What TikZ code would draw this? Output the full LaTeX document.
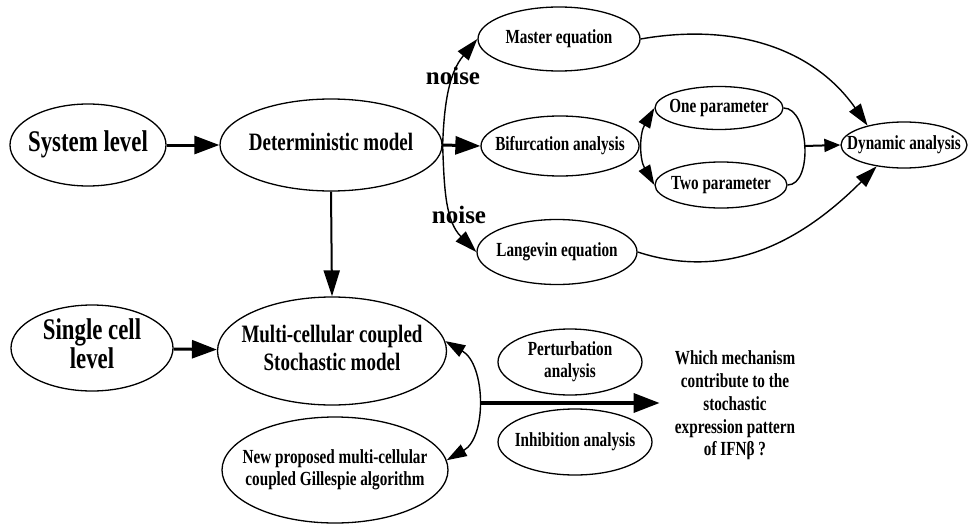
\documentclass[tikz,border=0pt]{standalone}
\usepackage{fontspec}
\setmainfont[FakeStretch=0.76]{Liberation Serif}
\newfontfamily\noisefont{Liberation Serif}
\usetikzlibrary{shapes.geometric,arrows.meta}
\newcommand\mlt[1]{\makebox[0pt]{\begin{tabular}{@{}c@{}}#1\end{tabular}}}
\tikzset{
  ell/.style 2 args={ellipse, draw, line width=1.3pt, minimum width=#1, minimum height=#2, inner sep=0pt},
  fbig/.style={font=\bfseries\fontsize{30}{29}\selectfont},
  fmid/.style={font=\bfseries\fontsize{25}{28}\selectfont},
  fsml/.style={font=\bfseries\fontsize{20}{22}\selectfont},
  fnoise/.style={font=\noisefont\bfseries\fontsize{25}{25}\selectfont, inner sep=0pt},
  thickarr/.style={line width=3pt, -{Triangle[length=25pt,width=18pt]}},
  vertarr/.style={line width=2pt, -{Triangle[length=26pt,width=16pt]}},
  smallarr/.style={line width=2pt, -{Triangle[length=16pt,width=13pt]}},
  thinarr/.style={line width=1.4pt, -{Triangle[length=22pt,width=14pt]}},
  dblarr/.style={line width=1.4pt, {Triangle[length=20pt,width=13pt]}-{Triangle[length=20pt,width=13pt]}},
  bigarr/.style={line width=3.5pt, -{Triangle[length=26pt,width=19pt]}},
}
\begin{document}
\begin{tikzpicture}[x=1pt,y=1pt]
\useasboundingbox (0,0) rectangle (968,-524);
% nodes
\node[ell={156}{82}, fbig] (sys) at (88,-145) {\mlt{System level}};
\node[ell={222}{92}, fmid] (det) at (331,-145) {\mlt{Deterministic model}};
\node[ell={162}{64}, fsml] (master) at (559,-39) {\mlt{Master equation}};
\node[ell={158}{60}, fsml] (bif) at (560,-146) {\mlt{Bifurcation analysis}};
\node[ell={160}{65}, fsml] (lang) at (557,-252) {\mlt{Langevin equation}};
\node[ell={128}{43}, fsml] (one) at (719,-108) {\mlt{One parameter}};
\node[ell={132}{46}, fsml] (two) at (721,-185) {\mlt{Two parameter}};
\node[ell={126}{46}, fsml] (dyn) at (904,-145) {\mlt{Dynamic analysis}};
\node[ell={162}{86}, fbig] (single) at (92,-348) {\mlt{Single cell\\level}};
\node[ell={229}{108}, fmid] (multi) at (332,-351) {\mlt{Multi-cellular coupled\\Stochastic model}};
\node[ell={226}{106}, fsml] (new) at (335,-470) {\mlt{New proposed multi-cellular\\coupled Gillespie algorithm}};
\node[ell={144}{66}, fsml] (pert) at (570,-362) {\mlt{Perturbation\\analysis}};
\node[ell={154}{66}, fsml] (inh) at (575,-442) {\mlt{Inhibition analysis}};
\node[font=\bfseries\fontsize{20}{22.75}\selectfont, align=center, inner sep=0pt] (q) at (735,-405.5)
  {Which mechanism\\contribute to the\\stochastic\\expression pattern\\of IFNβ ?};
\node[fnoise] (n1) at (453,-76) {noise};
\node[fnoise] (n2) at (459,-215) {noise};
\coordinate (brk) at (804,-146);
\coordinate (hs) at (480,-403);
% connectors
\draw[thickarr] (sys) -- (det);
\draw[thickarr] (det.east) -- (bif.west);
\draw[thickarr] (single) -- (multi);
\draw[vertarr] (det.south) -- (multi.north);
\draw[thinarr] (det.east) to[out=88,in=230] (master.west);
\draw[thinarr] (det.east) to[out=-88,in=135] (lang.west);
\draw[dblarr] (one.west) to[out=240,in=120] (two.west);
\draw[line width=1.4pt] (one.east) to[out=0,in=0,looseness=0.85] (two.east);
\draw[smallarr] (brk) -- (dyn.west);
\draw[thinarr] (master.east) to[out=10,in=125] (dyn.152);
\draw[thinarr] (lang.east) to[out=-18,in=225] (dyn.218);
\draw[dblarr] (multi.5) to[out=-30,in=30] (new.5);
\draw[bigarr, shorten >=15pt] (hs) -- (hs -| q.west);
\end{tikzpicture}
\end{document}
